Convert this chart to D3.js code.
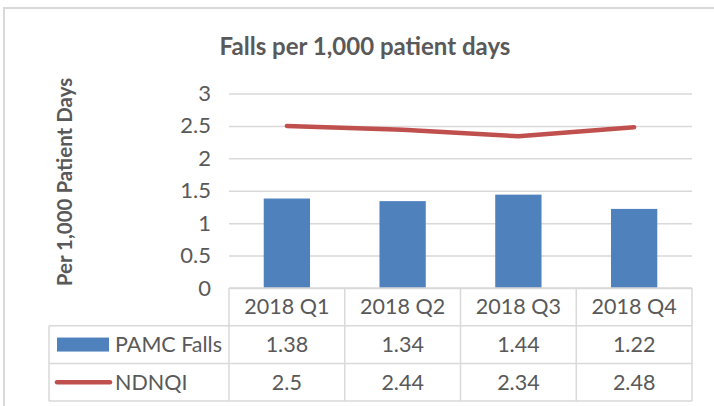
<!DOCTYPE html>
<html>
<head>
<meta charset="utf-8">
<script src="https://cdn.jsdelivr.net/npm/d3@7"></script>
<style>
  body { margin: 0; background: #fff; }
  svg { display: block; font-family: Lato, 'Open Sans', sans-serif; }
</style>
</head>
<body>
<div id="chart"></div>
<script>
const quarters = ['2018 Q1', '2018 Q2', '2018 Q3', '2018 Q4'];
const pamcFalls = [1.38, 1.34, 1.44, 1.22];
const ndnqi = [2.5, 2.44, 2.34, 2.48];
const yTicks = [0, 0.5, 1, 1.5, 2, 2.5, 3];
const seriesNames = ['PAMC Falls', 'NDNQI'];

const W = 714, H = 406;
const textColor = '#595959';
const gridColor = '#D9D9D9';
const barColor = '#4F81BD';
const lineColor = '#C0504D';

const plot = { left: 229, right: 692, top: 93.5, bottom: 288 };
const rowH = 37.7;

const svg = d3.select('#chart').append('svg')
    .attr('width', W)
    .attr('height', H);

// chart area border (only top/left visible in the crop)
svg.append('rect')
    .attr('x', 4).attr('y', 8)
    .attr('width', 800).attr('height', 500)
    .attr('fill', 'none')
    .attr('stroke', gridColor)
    .attr('stroke-width', 2);

svg.append('text')
    .attr('x', 365)
    .attr('y', 55)
    .attr('text-anchor', 'middle')
    .attr('fill', textColor)
    .style('font-size', '24px')
    .style('font-weight', 'bold')
    .text('Falls per 1,000 patient days');

const xCol = d3.scaleBand()
    .domain(quarters)
    .range([plot.left, plot.right])
    .padding(0);

const xBar = d3.scaleBand()
    .domain(quarters)
    .range([plot.left, plot.right])
    .paddingInner(0.6)
    .paddingOuter(0.3);

const yScale = d3.scaleLinear()
    .domain([0, 3])
    .range([plot.bottom, plot.top]);

// y axis with gridlines
const yAxis = d3.axisLeft(yScale)
    .tickValues(yTicks)
    .tickFormat(d => d)
    .tickSize(-(plot.right - plot.left))
    .tickPadding(18);

const yg = svg.append('g')
    .attr('transform', `translate(${plot.left},0)`)
    .call(yAxis);

yg.select('.domain').remove();
yg.selectAll('.tick line')
    .attr('stroke', gridColor)
    .attr('stroke-width', 1.5);
yg.selectAll('.tick text')
    .attr('fill', textColor)
    .style('font-size', '22px')
    .style('font-family', 'Lato, sans-serif');

svg.append('text')
    .attr('transform', 'rotate(-90)')
    .attr('x', -182)
    .attr('y', 72)
    .attr('text-anchor', 'middle')
    .attr('fill', textColor)
    .style('font-size', '20.5px')
    .style('font-weight', 'bold')
    .text('Per 1,000 Patient Days');

// bars
svg.selectAll('.bar')
    .data(pamcFalls)
    .enter()
    .append('rect')
    .attr('class', 'bar')
    .attr('x', (d, i) => xBar(quarters[i]))
    .attr('y', d => yScale(d))
    .attr('width', xBar.bandwidth())
    .attr('height', d => yScale(0) - yScale(d))
    .attr('fill', barColor);

// line
const line = d3.line()
    .x((d, i) => xCol(quarters[i]) + xCol.bandwidth() / 2)
    .y(d => yScale(d));

svg.append('path')
    .datum(ndnqi)
    .attr('d', line)
    .attr('fill', 'none')
    .attr('stroke', lineColor)
    .attr('stroke-width', 4.5)
    .attr('stroke-linecap', 'round')
    .attr('stroke-linejoin', 'round');

// data table
const table = svg.append('g').attr('class', 'data-table');
const tLeft = 49;
const r0 = plot.bottom, r1 = r0 + rowH, r2 = r1 + rowH, r3 = r2 + rowH;

const hLines = [
    [plot.left, r0], [tLeft, r1], [tLeft, r2], [tLeft, r3]
];
hLines.forEach(([x0, y]) => {
    table.append('line')
        .attr('x1', x0).attr('x2', plot.right)
        .attr('y1', y).attr('y2', y)
        .attr('stroke', gridColor).attr('stroke-width', 1.5);
});

const colEdges = quarters.map(q => xCol(q)).concat([plot.right]);
colEdges.forEach(x => {
    table.append('line')
        .attr('x1', x).attr('x2', x)
        .attr('y1', r0).attr('y2', r3)
        .attr('stroke', gridColor).attr('stroke-width', 1.5);
});
table.append('line')
    .attr('x1', tLeft).attr('x2', tLeft)
    .attr('y1', r1).attr('y2', r3)
    .attr('stroke', gridColor).attr('stroke-width', 1.5);

const cellFont = '21.5px';

quarters.forEach((q, i) => {
    const cx = xCol(q) + xCol.bandwidth() / 2;
    table.append('text')
        .attr('x', cx).attr('y', (r0 + r1) / 2)
        .attr('dy', '0.35em')
        .attr('text-anchor', 'middle')
        .attr('fill', textColor)
        .style('font-size', cellFont)
        .text(q);
    table.append('text')
        .attr('x', cx).attr('y', (r1 + r2) / 2)
        .attr('dy', '0.35em')
        .attr('text-anchor', 'middle')
        .attr('fill', textColor)
        .style('font-size', cellFont)
        .text(pamcFalls[i]);
    table.append('text')
        .attr('x', cx).attr('y', (r2 + r3) / 2)
        .attr('dy', '0.35em')
        .attr('text-anchor', 'middle')
        .attr('fill', textColor)
        .style('font-size', cellFont)
        .text(ndnqi[i]);
});

// legend keys in the table
table.append('rect')
    .attr('x', 57).attr('y', (r1 + r2) / 2 - 7)
    .attr('width', 52).attr('height', 14)
    .attr('fill', barColor);

table.append('line')
    .attr('x1', 57).attr('x2', 110)
    .attr('y1', (r2 + r3) / 2).attr('y2', (r2 + r3) / 2)
    .attr('stroke', lineColor)
    .attr('stroke-width', 4.5)
    .attr('stroke-linecap', 'round');

seriesNames.forEach((name, i) => {
    table.append('text')
        .attr('x', 115)
        .attr('y', i === 0 ? (r1 + r2) / 2 : (r2 + r3) / 2)
        .attr('dy', '0.35em')
        .attr('fill', textColor)
        .style('font-size', cellFont)
        .text(name);
});
</script>
</body>
</html>
